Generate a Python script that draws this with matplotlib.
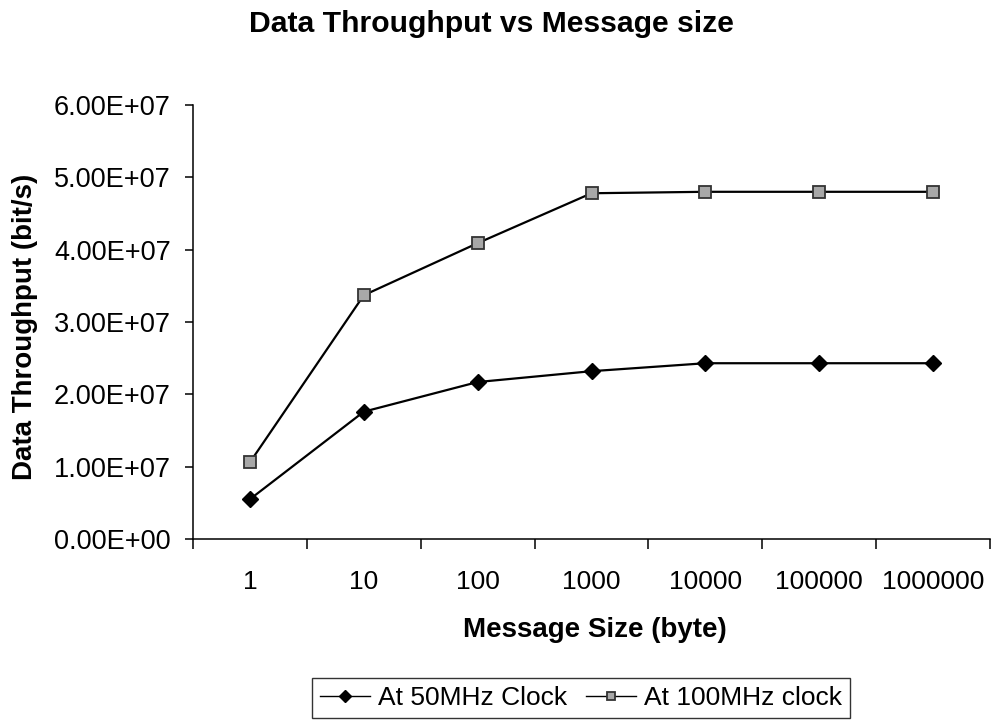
import matplotlib
matplotlib.use("Agg")
import matplotlib.pyplot as plt
import numpy as np

plt.rcParams['font.family'] = ['Liberation Sans', 'DejaVu Sans']

# Message sizes (bytes) shown as categories on the x axis
message_sizes = ["1", "10", "100", "1000", "10000", "100000", "1000000"]
# Throughput in bit/s for each clock frequency
throughput_50mhz = [0.55e7, 1.76e7, 2.17e7, 2.32e7, 2.43e7, 2.43e7, 2.43e7]
throughput_100mhz = [1.06e7, 3.37e7, 4.09e7, 4.78e7, 4.80e7, 4.80e7, 4.80e7]
y_ticks = [0, 1e7, 2e7, 3e7, 4e7, 5e7, 6e7]
y_tick_labels = ["0.00E+00", "1.00E+07", "2.00E+07", "3.00E+07",
                 "4.00E+07", "5.00E+07", "6.00E+07"]

W, H = 992, 721
fig = plt.figure(figsize=(W / 100, H / 100), dpi=100)
ax = fig.add_axes([193 / W, 1 - 539 / H, 797 / W, 434 / H])

x = np.arange(len(message_sizes))
ax.plot(x, throughput_50mhz, color="black", lw=1.6, marker="D", ms=8,
        mfc="black", mec="black", label="At 50MHz Clock")
ax.plot(x, throughput_100mhz, color="black", lw=1.6, marker="s", ms=8.5,
        mfc="#a8a8a8", mec="#333333", mew=1.3, label="At 100MHz clock")

ax.set_xlim(-0.5, len(message_sizes) - 0.5)
ax.set_ylim(0, 6e7)
ax.set_xticks(x)
ax.set_xticklabels(message_sizes, fontsize=19)
ax.set_xticks(np.arange(-0.5, len(message_sizes), 1.0), minor=True)
ax.tick_params(axis="x", which="major", length=0, pad=22)
ax.tick_params(axis="x", which="minor", length=7, width=1.1, direction="out")
ax.set_yticks(y_ticks)
ax.set_yticklabels(y_tick_labels, fontsize=19.5)
ax.tick_params(axis="y", length=6, width=1.1, direction="out", pad=10)

for side in ("top", "right"):
    ax.spines[side].set_visible(False)
for side in ("left", "bottom"):
    ax.spines[side].set_linewidth(1.1)

# Title and axis titles
fig.text(491.5 / W, 1 - 32 / H, "Data Throughput vs Message size",
         ha="center", va="baseline", fontsize=21.7, fontweight="bold")
fig.text(594.5 / W, 1 - 637 / H, "Message Size (byte)",
         ha="center", va="baseline", fontsize=20, fontweight="bold")
fig.text(25 / W, 1 - 327 / H, "Data Throughput (bit/s)", rotation=90,
         ha="center", va="center", fontsize=20, fontweight="bold")

leg = fig.legend(loc="upper left", bbox_to_anchor=(312 / W, 1 - 678 / H), ncol=2,
                 fontsize=19.0, frameon=True, fancybox=False, edgecolor="black",
                 handlelength=1.9, handletextpad=0.3, columnspacing=0.7,
                 borderpad=0.3, borderaxespad=0, markerscale=0.75)
leg.get_frame().set_linewidth(1.0)
for line in leg.get_lines():
    line.set_linewidth(1.0)

fig.savefig("out.png", dpi=100, facecolor="white")
